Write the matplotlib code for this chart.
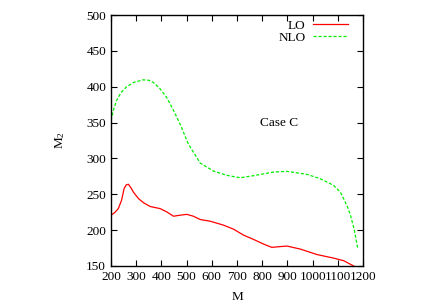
import matplotlib.pyplot as plt

plt.rcParams['font.family'] = ['Liberation Serif', 'DejaVu Serif']
plt.rcParams['mathtext.fontset'] = 'custom'
plt.rcParams['mathtext.rm'] = 'Liberation Serif'
plt.rcParams['mathtext.it'] = 'Liberation Serif:italic'

# LO curve
lo_m = [200, 215, 229, 242, 252, 260, 269, 279, 289, 309, 330, 355, 395, 421,
        448, 474, 501, 527, 554, 593, 646, 686, 726, 766, 805, 838, 870, 898,
        951, 1017, 1083, 1123, 1163]
lo_m2 = [220.8, 224.5, 230, 241.7, 258, 263, 264, 259, 253, 244, 238, 233, 230,
         225.5, 219.4, 220.8, 222, 219.4, 214.8, 212.5, 207, 201.4, 193, 187,
         180.6, 176, 177, 177.8, 173.6, 166, 161, 157.4, 150]

# NLO curve
nlo_m = [200, 210, 222, 240, 262, 290, 328, 350, 368, 395, 421, 448, 474, 507,
         554, 607, 660, 713, 766, 845, 898, 977, 1030, 1083, 1110, 1123, 1140,
         1150, 1165, 1179]
nlo_m2 = [353, 368, 380.7, 392, 400, 406, 409.6, 409, 406, 397, 385, 367, 348,
          320, 293.5, 282.4, 276.4, 273, 276, 281, 282, 277.8, 271.8, 262.5,
          253, 244, 231, 221, 201, 174.5]

fig = plt.figure(figsize=(4.36, 3.05), dpi=100)
ax = fig.add_axes([0.2546, 0.1279, 0.578, 0.8229])

ax.plot(lo_m, lo_m2, color='#ff0000', lw=0.9, label='LO')
ax.plot(nlo_m, nlo_m2, color='#00ee00', lw=0.9, ls=(0, (2.5, 1.5)), label='NLO')

ax.set_xlim(200, 1200)
ax.set_ylim(150, 500)
ax.set_xticks(range(200, 1201, 100))
ax.set_yticks(range(150, 501, 50))
ax.tick_params(direction='in', top=True, right=True, labelsize=9.5, length=4, width=0.8)
for s in ax.spines.values():
    s.set_linewidth(1)

ax.set_xlabel('M', fontsize=9.5, labelpad=6)
ax.set_ylabel('M$_2$', fontsize=9.5, labelpad=14)

ax.text(867, 350, 'Case C', fontsize=9.5, ha='center', va='center')

ax.legend(loc='upper right', frameon=False, markerfirst=False, fontsize=9.5,
          handlelength=2.6, handletextpad=0.6, labelspacing=0.0,
          borderaxespad=0.0, bbox_to_anchor=(0.96, 1.003))

fig.savefig('out.png', dpi=100)
